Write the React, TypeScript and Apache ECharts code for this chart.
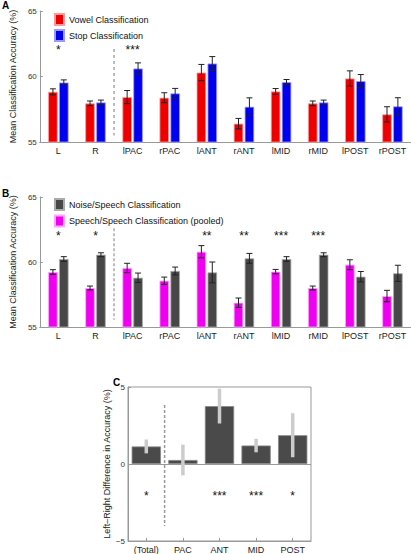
import React, { useEffect, useRef } from "react";
import * as echarts from "echarts";

// ---- Data ----
const categories = ["L", "R", "lPAC", "rPAC", "lANT", "rANT", "lMID", "rMID", "lPOST", "rPOST"];

const vowelMean = [58.83, 57.95, 58.43, 58.38, 60.3, 56.4, 58.86, 57.95, 59.85, 57.11];
const vowelErr = [0.23, 0.18, 0.5, 0.38, 0.62, 0.4, 0.22, 0.18, 0.58, 0.58];
const stopMean = [59.54, 58.02, 60.61, 58.71, 60.99, 57.69, 59.57, 58.02, 59.65, 57.72];
const stopErr = [0.2, 0.18, 0.43, 0.38, 0.53, 0.68, 0.2, 0.18, 0.5, 0.66];
const starsA = ["*", "", "***", "", "", "", "", "", "", ""];

const speechMean = [59.23, 58.0, 59.54, 58.56, 60.79, 56.87, 59.26, 58.0, 59.79, 57.38];
const speechErr = [0.18, 0.15, 0.36, 0.28, 0.47, 0.36, 0.17, 0.15, 0.38, 0.44];
const noiseMean = [60.23, 60.56, 58.79, 59.31, 59.2, 60.28, 60.23, 60.56, 58.87, 59.13];
const noiseErr = [0.18, 0.15, 0.36, 0.3, 0.8, 0.38, 0.18, 0.15, 0.4, 0.62];
const starsB = ["*", "*", "", "", "**", "**", "***", "***", "", ""];

const diffCategories = ["(Total)", "PAC", "ANT", "MID", "POST"];
const diffMean = [1.14, 0.26, 3.76, 1.2, 1.87];
const diffErr = [0.45, 1.0, 1.13, 0.44, 1.43];
const starsC = ["*", "", "***", "***", "*"];

const starLevelA = 62.0;
const starLevelB = 62.0;
const starLevelC = -2.05;
const dividerA = [1, 2, 62.1, 55.5];
const dividerB = [1, 2, 62.6, 55.55];
const dividerC = [0, 1, 3.83, -4.02];

const FONT = "Liberation Sans";

function errSeries(means: number[], errs: number[], offset: number, axis: number, cap: number, color: string, width: number) {
  return {
    type: "custom",
    xAxisIndex: axis,
    yAxisIndex: axis,
    silent: true,
    z: 10,
    data: means.map((m, i) => [i, m - errs[i], m + errs[i]]),
    encode: { x: 0, y: [1, 2] },
    renderItem: (params: any, api: any) => {
      const lo = api.coord([api.value(0), api.value(1)]);
      const hi = api.coord([api.value(0), api.value(2)]);
      const x = lo[0] + offset;
      const children: any[] = [
        { type: "line", shape: { x1: x, y1: lo[1], x2: x, y2: hi[1] }, style: { stroke: color, lineWidth: width } },
      ];
      if (cap > 0) {
        children.push({ type: "line", shape: { x1: x - cap, y1: lo[1], x2: x + cap, y2: lo[1] }, style: { stroke: color, lineWidth: width } });
        children.push({ type: "line", shape: { x1: x - cap, y1: hi[1], x2: x + cap, y2: hi[1] }, style: { stroke: color, lineWidth: width } });
      }
      return { type: "group", children };
    },
  };
}

function starSeries(stars: string[], level: number, axis: number) {
  return {
    type: "custom",
    xAxisIndex: axis,
    yAxisIndex: axis,
    silent: true,
    z: 11,
    data: stars.map((s, i) => [i, level]),
    encode: { x: 0, y: 1 },
    renderItem: (params: any, api: any) => {
      const p = api.coord([api.value(0), api.value(1)]);
      return {
        type: "text",
        x: p[0],
        y: p[1],
        style: { text: stars[params.dataIndex], fill: "#111", font: `12px "${FONT}"`, align: "center", verticalAlign: "middle" },
      };
    },
  };
}

function dividerSeries(div: number[], axis: number, color: string, width: number, dash: number[]) {
  return {
    type: "custom",
    xAxisIndex: axis,
    yAxisIndex: axis,
    silent: true,
    z: 5,
    data: [div],
    encode: { x: [0, 1], y: [2, 3] },
    renderItem: (params: any, api: any) => {
      const p1 = api.coord([api.value(0), api.value(2)]);
      const p2 = api.coord([api.value(1), api.value(3)]);
      const x = (p1[0] + p2[0]) / 2;
      return {
        type: "line",
        shape: { x1: x, y1: p1[1], x2: x, y2: p2[1] },
        style: { stroke: color, lineWidth: width, lineDash: dash },
      };
    },
  };
}

const axisGray = "#999";
const BW = 9.5;
const OFF = 5.45;

function catAxis(idx: number, data: string[], extra: any = {}) {
  return {
    type: "category",
    gridIndex: idx,
    data,
    axisLine: { show: true, onZero: false, lineStyle: { color: axisGray, width: 1 } },
    axisTick: { show: false },
    axisLabel: { fontSize: 9, color: "#222", margin: 4, fontFamily: FONT },
    ...extra,
  };
}

function valAxis(idx: number, min: number, max: number, name: string, nameGap: number, extra: any = {}) {
  return {
    type: "value",
    gridIndex: idx,
    min,
    max,
    interval: 5,
    name,
    nameLocation: "middle",
    nameGap,
    nameTextStyle: { fontSize: 9, color: "#222", fontFamily: FONT },
    axisLine: { show: true, lineStyle: { color: axisGray, width: 1 } },
    axisTick: { show: true, inside: true, length: 3, lineStyle: { color: axisGray } },
    axisLabel: { fontSize: 8, color: "#333", margin: 3, fontFamily: FONT, formatter: (v: number) => String(v).replace("-", "\u2212") },
    splitLine: { show: false },
    ...extra,
  };
}

export default function App() {
  const ref = useRef<HTMLDivElement>(null);
  useEffect(() => {
    if (!ref.current) return;
    const chart = echarts.init(ref.current, null, { renderer: "svg" });
    const option: any = {
      animation: false,
      backgroundColor: "#fff",
      textStyle: { fontFamily: FONT },
      grid: [
        { left: 37, top: 11, width: 374, height: 131 },
        { left: 37, top: 197, width: 374, height: 130 },
        { left: 128, top: 387, width: 183, height: 155, show: true, borderColor: axisGray, borderWidth: 1, backgroundColor: "transparent" },
      ],
      xAxis: [
        catAxis(0, categories),
        catAxis(1, categories),
        catAxis(2, diffCategories, { axisTick: { show: true, inside: true, alignWithLabel: true, length: 3, lineStyle: { color: axisGray } } }),
      ],
      yAxis: [
        valAxis(0, 55, 65, "Mean Classification Accuracy (%)", 15),
        valAxis(1, 55, 65, "Mean Classification Accuracy (%)", 15),
        valAxis(2, -5, 5, "Left\u2013Right Difference in Accuracy (%)", 14),
      ],
      legend: [
        {
          data: ["Vowel Classification", "Stop Classification"],
          orient: "vertical",
          left: 54,
          top: 13,
          padding: 0,
          itemWidth: 9,
          itemHeight: 11,
          itemGap: 3,
          icon: "rect",
          textStyle: { fontSize: 9, color: "#111", fontFamily: FONT },
          selectedMode: false,
        },
        {
          data: ["Noise/Speech Classification", "Speech/Speech Classification (pooled)"],
          orient: "vertical",
          left: 54,
          top: 198,
          padding: 0,
          itemWidth: 9,
          itemHeight: 11,
          itemGap: 3.5,
          icon: "rect",
          textStyle: { fontSize: 9, color: "#111", fontFamily: FONT },
          selectedMode: false,
        },
      ],
      graphic: [
        { type: "text", left: 2, top: 0, style: { text: "A", font: `bold 10px "${FONT}"`, fill: "#000" } },
        { type: "text", left: 2, top: 188, style: { text: "B", font: `bold 10px "${FONT}"`, fill: "#000" } },
        { type: "text", left: 113, top: 377, style: { text: "C", font: `bold 10px "${FONT}"`, fill: "#000" } },
      ],
      series: [
        // Panel A
        dividerSeries(dividerA, 0, "#777", 1, [3, 3]),
        {
          name: "Vowel Classification",
          type: "bar",
          xAxisIndex: 0,
          yAxisIndex: 0,
          data: vowelMean,
          barWidth: BW,
          barGap: "15%",
          itemStyle: { color: "#ee0000", borderColor: "#ff9a9a", borderWidth: 0.8 },
        },
        {
          name: "Stop Classification",
          type: "bar",
          xAxisIndex: 0,
          yAxisIndex: 0,
          data: stopMean,
          barWidth: BW,
          barGap: "15%",
          itemStyle: { color: "#0000ee", borderColor: "#9a9aff", borderWidth: 0.8 },
        },
        errSeries(vowelMean, vowelErr, -OFF, 0, 3, "#222", 1),
        errSeries(stopMean, stopErr, OFF, 0, 3, "#222", 1),
        starSeries(starsA, starLevelA, 0),
        // Panel B
        dividerSeries(dividerB, 1, "#aaa", 1.5, [3, 2]),
        {
          name: "Speech/Speech Classification (pooled)",
          type: "bar",
          xAxisIndex: 1,
          yAxisIndex: 1,
          data: speechMean,
          barWidth: BW,
          barGap: "15%",
          itemStyle: { color: "#f000f0", borderColor: "#ffa8ff", borderWidth: 0.8 },
        },
        {
          name: "Noise/Speech Classification",
          type: "bar",
          xAxisIndex: 1,
          yAxisIndex: 1,
          data: noiseMean,
          barWidth: BW,
          barGap: "15%",
          itemStyle: { color: "#474747", borderColor: "#aaaaaa", borderWidth: 0.8 },
        },
        errSeries(speechMean, speechErr, -OFF, 1, 3, "#222", 1),
        errSeries(noiseMean, noiseErr, OFF, 1, 3, "#222", 1),
        starSeries(starsB, starLevelB, 1),
        // Panel C
        dividerSeries(dividerC, 2, "#999", 1.5, [3, 2]),
        {
          name: "Difference",
          type: "bar",
          xAxisIndex: 2,
          yAxisIndex: 2,
          data: diffMean,
          barWidth: "80%",
          itemStyle: { color: "#4a4a4a", borderColor: "#888", borderWidth: 0.8 },
          markLine: {
            silent: true,
            symbol: "none",
            label: { show: false },
            lineStyle: { color: "#999", type: "solid", width: 1 },
            data: [{ yAxis: 0 }],
          },
        },
        errSeries(diffMean, diffErr, 0, 2, 0, "#cccccc", 3.5),
        starSeries(starsC, starLevelC, 2),
      ],
    };
    chart.setOption(option);
    return () => chart.dispose();
  }, []);
  return <div ref={ref} style={{ position: "fixed", left: 0, top: 0, width: 411, height: 554, background: "#fff" }} />;
}
